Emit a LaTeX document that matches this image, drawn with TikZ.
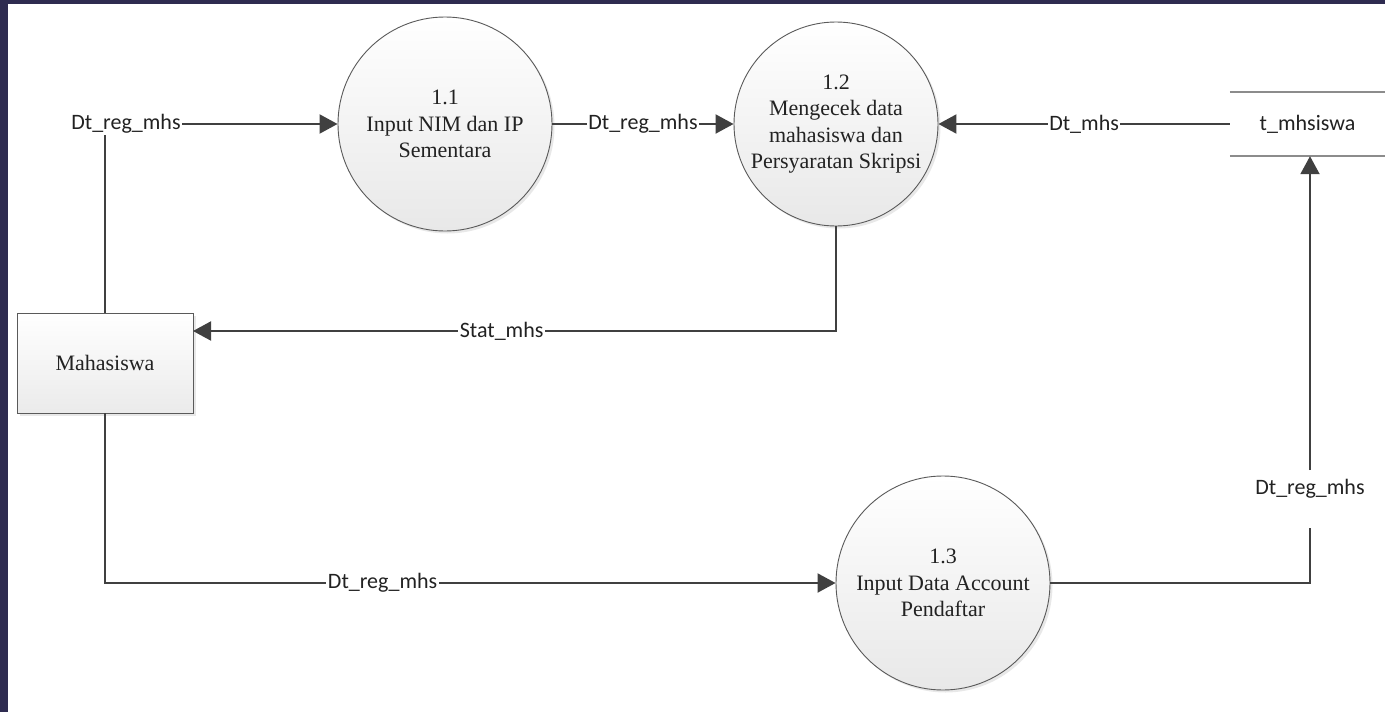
\documentclass[tikz,border=0pt]{standalone}
\usepackage{fontspec}
\setmainfont{Liberation Serif}
\newfontfamily\lblfont{Carlito}
\usetikzlibrary{arrows.meta,shadows}
\definecolor{navy}{HTML}{2E2B50}
\definecolor{linegray}{HTML}{404040}
\definecolor{edgegray}{HTML}{5A5A5A}
\definecolor{txt}{HTML}{222222}
\tikzset{
  proc/.style={circle, draw=edgegray, line width=0.9pt, inner sep=0pt,
    top color=white, bottom color=black!9, align=center, text=txt,
    font=\fontsize{22}{26.5}\selectfont,
    drop shadow={opacity=0.18, shadow xshift=2.5pt, shadow yshift=-2.5pt}},
  entity/.style={rectangle, draw=edgegray, line width=0.9pt, inner sep=0pt,
    top color=white, bottom color=black!8, text=txt,
    minimum width=176pt, minimum height=100pt,
    font=\fontsize{22}{26.5}\selectfont,
    drop shadow={opacity=0.18, shadow xshift=2.5pt, shadow yshift=-2.5pt}},
  store/.style={rectangle, inner sep=0pt, minimum width=155pt, minimum height=64pt,
    text=txt, font=\lblfont\fontsize{22}{26.5}\selectfont},
  storeline/.style={draw=black!45, line width=2pt},
  lbl/.style={inner sep=1.5pt, fill=white, text=txt, font=\lblfont\fontsize{22}{26.5}\selectfont},
  conn/.style={draw=linegray, line width=2pt},
  flow/.style={conn, -{Triangle[length=18pt,width=19pt]}},
}
\begin{document}
\begin{tikzpicture}[x=1pt,y=-1pt]
\useasboundingbox (0,0) rectangle (1385,712);
\fill[white] (0,0) rectangle (1385,712);
\fill[navy] (0,0) rectangle (8,712);
\fill[navy] (0,0) rectangle (1385,3.5);

% processes
\node[proc, minimum size=214pt] (p11) at (445,124) {1.1\\Input NIM dan IP\\Sementara};
\node[proc, minimum size=204pt] (p12) at (836,124) {1.2\\Mengecek data\\mahasiswa dan\\Persyaratan Skripsi};
\node[proc, minimum size=214pt] (p13) at (943,583) {1.3\\Input Data Account\\Pendaftar};

% external entity
\node[entity] (mhs) at (105,363) {Mahasiswa};

% data store
\node[store] (st) at (1307.5,124) {t\_mhsiswa};
\draw[storeline] (st.north west) -- (st.north east);
\draw[storeline] (st.south west) -- (st.south east);

% labels that stand free
\node[lbl] (l1) at (126,124) {Dt\_reg\_mhs};
\node[lbl] (l6) at (1310,489) {Dt\_reg\_mhs};
\coordinate (statin) at (193,331);
\coordinate (c6a) at (1310,528);
\coordinate (c6b) at (1310,470);

% connectors
\draw[conn] (mhs.north) -- (mhs.north |- l1.south);
\draw[flow] (l1.east) -- (p11.west);
\draw[flow] (p11.east) -- node[lbl] {Dt\_reg\_mhs} (p12.west);
\draw[flow] (st.west) -- node[lbl] {Dt\_mhs} (p12.east);
\draw[flow] (p12.south) |- node[lbl, pos=0.76] {Stat\_mhs} (statin);
\draw[flow] (mhs.south) |- node[lbl, pos=0.69] {Dt\_reg\_mhs} (p13.west);
\draw[conn] (p13.east) -| (c6a);
\draw[flow] (c6b) -- (c6b |- st.south);
\end{tikzpicture}
\end{document}
